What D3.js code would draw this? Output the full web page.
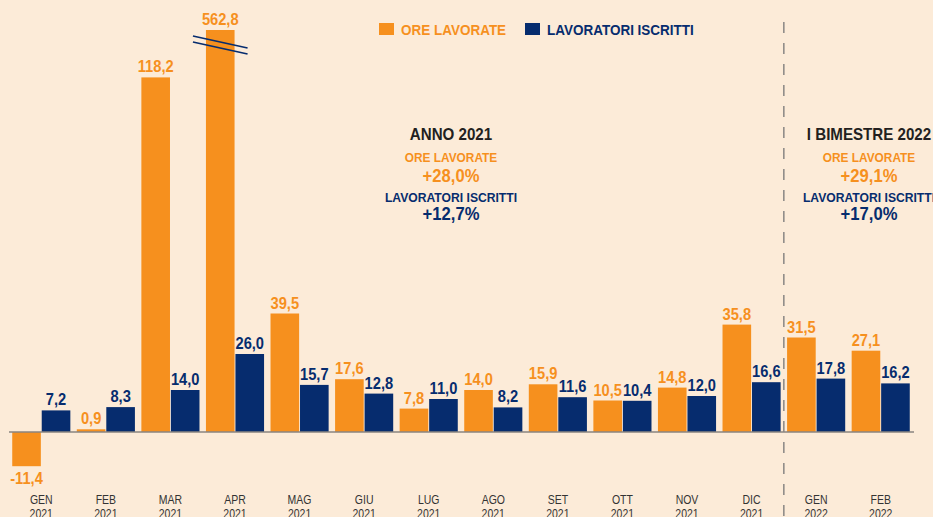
<!DOCTYPE html>
<html><head><meta charset="utf-8">
<script src="https://cdn.jsdelivr.net/npm/d3@7"></script>
<style>
html,body{margin:0;padding:0;background:#FCEBD8;}
svg{display:block;}
text{font-family:"Liberation Sans",Arial,sans-serif;font-weight:bold;}
</style></head>
<body>
<svg id="c" width="933" height="517"></svg>
<script>
const months = ["GEN","FEB","MAR","APR","MAG","GIU","LUG","AGO","SET","OTT","NOV","DIC","GEN","FEB"];
const years  = ["2021","2021","2021","2021","2021","2021","2021","2021","2021","2021","2021","2021","2022","2022"];
const oreLavorate = [-11.4, 0.9, 118.2, 562.8, 39.5, 17.6, 7.8, 14.0, 15.9, 10.5, 14.8, 35.8, 31.5, 27.1];
const lavoratoriIscritti = [7.2, 8.3, 14.0, 26.0, 15.7, 12.8, 11.0, 8.2, 11.6, 10.4, 12.0, 16.6, 17.8, 16.2];
const seriesNames = ["ORE LAVORATE","LAVORATORI ISCRITTI"];
const breakCap = 134; // displayed height of the broken bar
const annoLabels = ["ANNO 2021","ORE LAVORATE","+28,0%","LAVORATORI ISCRITTI","+12,7%"];
const bimLabels = ["I BIMESTRE 2022","ORE LAVORATE","+29,1%","LAVORATORI ISCRITTI","+17,0%"];

const ORANGE = "#F6901E", NAVY = "#062C6E";
const svg = d3.select("#c");
const idx = d3.range(months.length);

// condensed text helper
function ctext(parent, x, y, str, o){
  const t = parent.append("text")
    .attr("transform", `translate(${x},${y}) scale(${o.sx || 0.9},1)`)
    .attr("text-anchor", o.anchor || "middle")
    .attr("font-size", o.size)
    .attr("fill", o.fill)
    .text(str);
  if (o.normal) t.style("font-weight", "normal");
  return t;
}

const x = d3.scaleBand().domain(idx).range([9, 913]).paddingInner(0.1).paddingOuter(0.05);
const xs = d3.scaleBand().domain([0,1]).range([0, x.bandwidth()]).paddingInner(0.03);
const y = d3.scaleLinear().domain([-20, 140]).range([492, 12]);

const data = idx.map(i => ({i, vals:[oreLavorate[i], lavoratoriIscritti[i]]}));

// dashed separator
const sepX = (x(11) + x.bandwidth() + x(12)) / 2;
svg.append("line").attr("x1", sepX).attr("x2", sepX).attr("y1", 22).attr("y2", 517)
  .attr("stroke", "#777").attr("stroke-width", 1.3).attr("stroke-dasharray", "11,10");

const g = svg.selectAll("g.grp").data(data).enter().append("g")
  .attr("transform", d => `translate(${x(d.i)},0)`);

g.selectAll("rect").data(d => d.vals.map((v,k)=>({v,k}))).enter().append("rect")
  .attr("x", d => xs(d.k))
  .attr("width", xs.bandwidth())
  .attr("y", d => y(Math.max(0, Math.min(d.v, breakCap))))
  .attr("height", d => Math.abs(y(Math.min(d.v, breakCap)) - y(0)))
  .attr("fill", d => d.k === 0 ? ORANGE : NAVY);

const fmt = v => d3.format(".1f")(v).replace(".", ",").replace("−","-");
data.forEach(d => {
  d.vals.forEach((v,k) => {
    const cx = x(d.i) + xs(k) + xs.bandwidth()/2;
    const ty = v >= 0 ? y(Math.min(v, breakCap)) - 5 : y(v) + 18;
    ctext(svg, cx, ty, fmt(v), {size:16.5, sx:0.89, fill: k === 0 ? ORANGE : NAVY});
  });
});

// zero baseline
svg.append("line").attr("x1", 9).attr("x2", 914).attr("y1", y(0)).attr("y2", y(0))
  .attr("stroke", "#8a8580").attr("stroke-width", 1.6);

// break marks on broken bar
const bi = oreLavorate.findIndex(v => v > breakCap);
const bx0 = x(bi) + xs(0) - 13, bx1 = x(bi) + xs(0) + xs.bandwidth() + 13;
[36, 42].forEach(yy => {
  svg.append("line").attr("x1", bx0).attr("x2", bx1).attr("y1", yy).attr("y2", yy + 12)
    .attr("stroke", NAVY).attr("stroke-width", 1.6);
});

// x axis labels
idx.forEach(i => {
  const cx = x(i) + x.bandwidth()/2;
  ctext(svg, cx, 504, months[i], {size:12.5, sx:0.84, fill:"#333", normal:true});
  ctext(svg, cx, 517.5, years[i], {size:12.5, sx:0.84, fill:"#333", normal:true});
});

// legend
const leg = [{name:seriesNames[0], c:ORANGE, x:379},{name:seriesNames[1], c:NAVY, x:525}];
leg.forEach(l => {
  svg.append("rect").attr("x", l.x).attr("y", 23).attr("width", 15).attr("height", 12).attr("fill", l.c);
  ctext(svg, l.x + 22, 34.5, l.name, {size:15, sx:0.9, fill:l.c, anchor:"start"});
});

// annotation blocks
function block(cx, labels){
  const specs = [
    {y:139.5, s:17, sx:0.89, c:"#231f20"},
    {y:162, s:13.5, sx:0.88, c:ORANGE},
    {y:182, s:17.5, sx:0.95, c:ORANGE},
    {y:201.5, s:13.5, sx:0.9, c:NAVY},
    {y:220, s:17.5, sx:0.95, c:NAVY}
  ];
  labels.forEach((t,k) => ctext(svg, cx, specs[k].y, t, {size:specs[k].s, sx:specs[k].sx, fill:specs[k].c}));
}
block(451, annoLabels);
block(869, bimLabels);
</script>
</body></html>
